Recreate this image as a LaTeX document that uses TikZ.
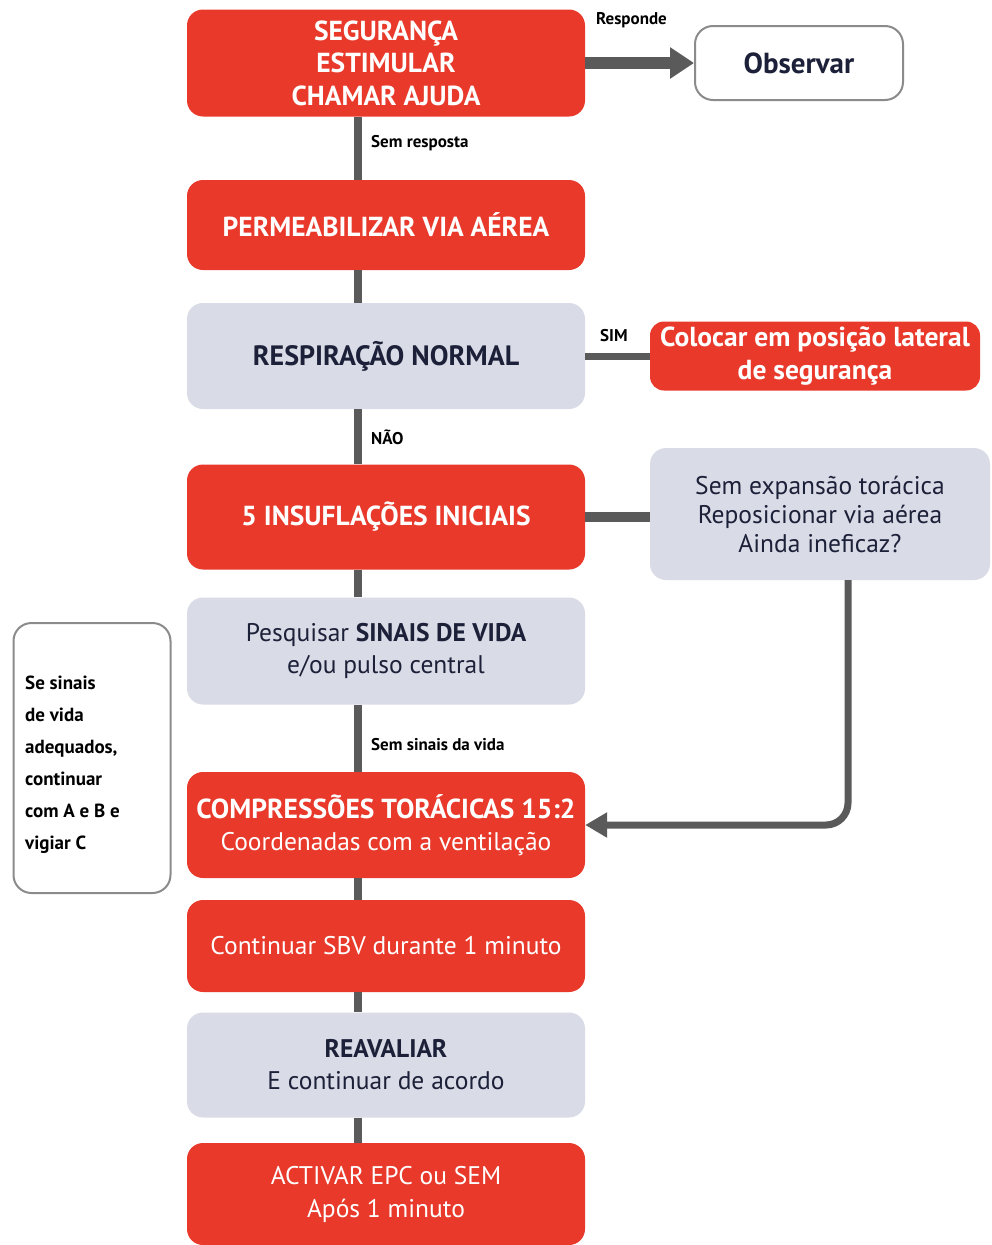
\documentclass[tikz,border=0pt]{standalone}
\usepackage{fontspec}
\setmainfont{PT Sans}
\usetikzlibrary{arrows.meta}
\definecolor{boxred}{HTML}{E8392B}
\definecolor{boxgray}{HTML}{D9DCE6}
\definecolor{linkgray}{HTML}{5A5A5A}
\definecolor{ink}{HTML}{1C2038}
\tikzset{
  redbox/.style={fill=boxred, text=white, rounded corners=16pt, align=center,
    minimum width=398pt, font=\bfseries\fontsize{27.5}{32.5}\selectfont, inner sep=0pt},
  graybox/.style={fill=boxgray, text=ink, rounded corners=16pt, align=center,
    minimum width=398pt, font=\fontsize{25.5}{32}\selectfont, inner sep=0pt},
  outlinebox/.style={draw=linkgray!70, line width=2pt, fill=white, rounded corners=18pt, inner sep=0pt},
  link/.style={draw=linkgray, line width=8pt},
  tag/.style={anchor=west, text=black, font=\bfseries\fontsize{17}{19}\selectfont, inner sep=0pt}
}
\begin{document}
\begin{tikzpicture}[x=1pt,y=-1pt]
\useasboundingbox[fill=white] (0,0) rectangle (992,1245);
\coordinate (spine) at (358,0);
\coordinate (rside) at (848,0);

% main column
\node[redbox, minimum height=107pt] (s1) at (386,63) {SEGURANÇA\\ESTIMULAR\\CHAMAR AJUDA};
\node[redbox, minimum height=90pt] (s2) at (386,225) {PERMEABILIZAR VIA AÉREA};
\node[graybox, minimum height=106pt, font=\bfseries\fontsize{28}{32}\selectfont] (s3) at (386,356) {RESPIRAÇÃO NORMAL};
\node[redbox, minimum height=105pt] (s4) at (386,517) {5 INSUFLAÇÕES INICIAIS};
\node[graybox, minimum height=107pt] (s5) at (386,651) {Pesquisar \textbf{SINAIS DE VIDA}\\e/ou pulso central};
\node[redbox, minimum height=106pt] (s6) at (386,825) {COMPRESSÕES TORÁCICAS 15:2\\\mdseries\fontsize{25.5}{32}\selectfont Coordenadas com a ventilação};
\node[redbox, minimum height=92pt, font=\fontsize{25.5}{32}\selectfont] (s7) at (386,946) {Continuar SBV durante 1 minuto};
\node[graybox, minimum height=105pt] (s8) at (386,1065) {\textbf{REAVALIAR}\\E continuar de acordo};
\node[redbox, minimum height=102pt, font=\fontsize{25.5}{33}\selectfont] (s9) at (386,1194) {ACTIVAR EPC ou SEM\\Após 1 minuto};

% side boxes
\node[outlinebox, minimum width=208pt, minimum height=74pt, font=\bfseries\fontsize{29}{32}\selectfont, text=ink] (obs) at (799,63) {Observar};
\node[redbox, minimum width=330pt, minimum height=69pt, rounded corners=14pt, font=\bfseries\fontsize{27.5}{33}\selectfont] (pls) at (815,356) {Colocar em posição lateral\\de segurança};
\node[graybox, minimum width=340pt, minimum height=132pt, font=\fontsize{25.5}{29}\selectfont] (exp) at (820,514) {Sem expansão torácica\\Reposicionar via aérea\\Ainda ineficaz?};
\node[outlinebox, minimum width=157pt, minimum height=270pt, text=black] (note) at (92,758) {};
\node[anchor=north west, align=left, inner sep=0pt, text=black, font=\bfseries\fontsize{19}{32}\selectfont] (notetext) at (25,676) {Se sinais\\de vida\\adequados,\\continuar\\com A e B e\\vigiar C};

% connectors down the spine
\draw[link] (s1.south -| spine) -- (s2.north -| spine);
\draw[link] (s2.south -| spine) -- (s3.north -| spine);
\draw[link] (s3.south -| spine) -- (s4.north -| spine);
\draw[link] (s4.south -| spine) -- (s5.north -| spine);
\draw[link] (s5.south -| spine) -- (s6.north -| spine);
\draw[link] (s6.south -| spine) -- (s7.north -| spine);
\draw[link] (s7.south -| spine) -- (s8.north -| spine);
\draw[link] (s8.south -| spine) -- (s9.north -| spine);

% side connectors
\draw[draw=linkgray, line width=12pt, -{Triangle[length=24pt,width=30pt]}] (s1.east) -- (obs.west);
\draw[draw=linkgray, line width=7pt] (s3.east) -- (pls.west);
\draw[draw=linkgray, line width=10pt] (s4.east) -- (s4.east -| exp.west);
\draw[draw=linkgray, line width=7pt, rounded corners=22pt, -{Triangle[length=22pt,width=24pt]}]
  (exp.south -| rside) |- (s6.east);

% connector labels
\node[tag] (lresp) at (596,20) {Responde};
\node[tag] (lsemr) at (371,143) {Sem resposta};
\node[tag] (lsim) at (600,336) {SIM};
\node[tag] (lnao) at (371,437) {NÃO};
\node[tag] (lsinais) at (371,745) {Sem sinais da vida};
\end{tikzpicture}
\end{document}
